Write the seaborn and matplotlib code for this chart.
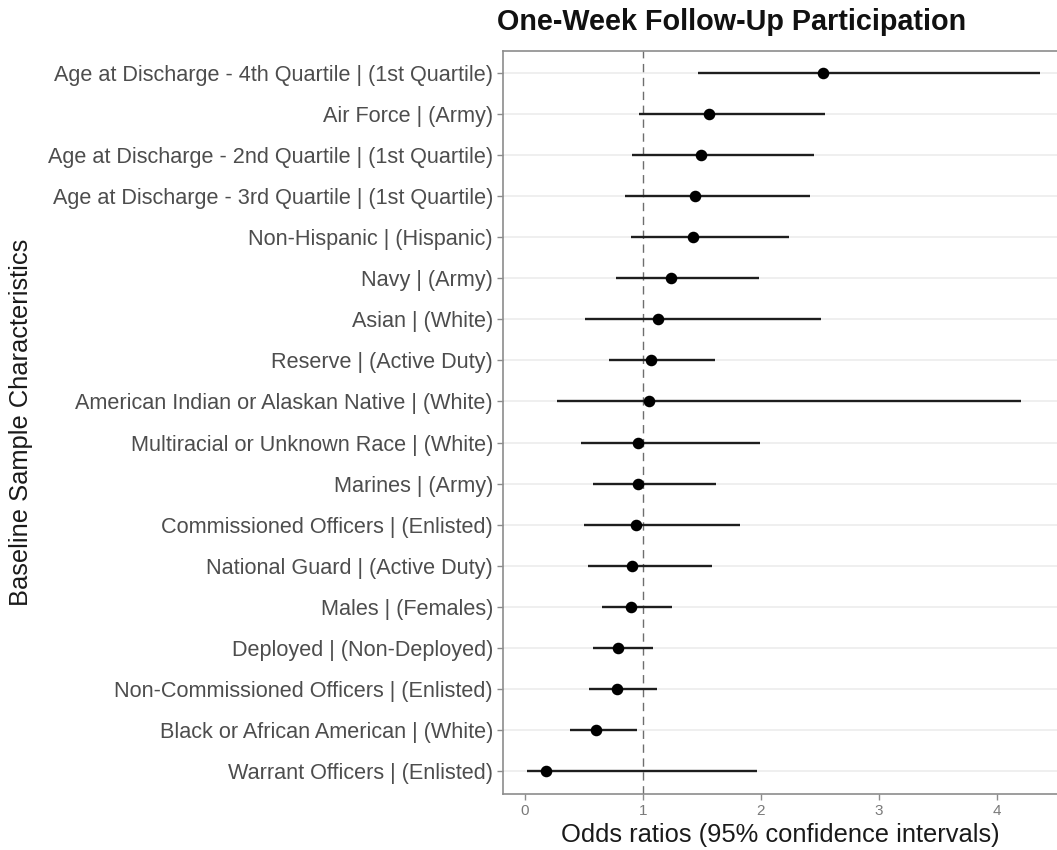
import numpy as np
import pandas as pd
import matplotlib
matplotlib.use("Agg")
import matplotlib.pyplot as plt
import seaborn as sns

# Odds ratios with 95% confidence intervals, top row first
labels = [
    "Age at Discharge - 4th Quartile | (1st Quartile)",
    "Air Force | (Army)",
    "Age at Discharge - 2nd Quartile | (1st Quartile)",
    "Age at Discharge - 3rd Quartile | (1st Quartile)",
    "Non-Hispanic | (Hispanic)",
    "Navy | (Army)",
    "Asian | (White)",
    "Reserve | (Active Duty)",
    "American Indian or Alaskan Native | (White)",
    "Multiracial or Unknown Race | (White)",
    "Marines | (Army)",
    "Commissioned Officers | (Enlisted)",
    "National Guard | (Active Duty)",
    "Males | (Females)",
    "Deployed | (Non-Deployed)",
    "Non-Commissioned Officers | (Enlisted)",
    "Black or African American | (White)",
    "Warrant Officers | (Enlisted)",
]
odds_ratio = [2.53, 1.56, 1.49, 1.44, 1.42, 1.24, 1.13, 1.07, 1.05, 0.96,
              0.96, 0.94, 0.91, 0.90, 0.79, 0.78, 0.60, 0.175]
ci_low = [1.47, 0.97, 0.91, 0.85, 0.90, 0.775, 0.51, 0.71, 0.27, 0.47,
          0.575, 0.50, 0.53, 0.65, 0.575, 0.545, 0.38, 0.02]
ci_high = [4.37, 2.54, 2.45, 2.42, 2.24, 1.98, 2.51, 1.61, 4.21, 1.99,
           1.62, 1.82, 1.585, 1.25, 1.085, 1.12, 0.95, 1.97]
x_ticks = [0, 1, 2, 3, 4]

df = pd.DataFrame({"label": labels, "or": odds_ratio,
                   "lo": ci_low, "hi": ci_high})

sns.set_theme(style="white")
plt.rcParams["font.family"] = ["Liberation Sans", "DejaVu Sans"]

fig = plt.figure(figsize=(10.57, 8.5), dpi=100)
ax = fig.add_axes([502.7 / 1057, 1 - 794 / 850,
                   (1057 - 502.7) / 1057, (794 - 50.8) / 850])

ypos = np.arange(len(df))
# horizontal gridlines at each category
for y in ypos:
    ax.axhline(y, color="#EBEBEB", lw=1.1, zorder=0)

ax.axvline(1, color="#6E6E6E", lw=1.0, ls=(0, (6, 4)), zorder=1)

ax.hlines(ypos, df["lo"], df["hi"], color="#1E1E1E", lw=1.7, zorder=2)
sns.pointplot(data=df, x="or", y="label", order=labels, orient="h",
              linestyle="none", color="black", markersize=6.3,
              errorbar=None, ax=ax, zorder=3)

ax.set_xlim(-0.19, (1057 - 525.3) / 117.85)
ax.set_ylim(len(df) - 1 + 0.56, -0.54)
ax.set_xticks(x_ticks)
ax.set_xticklabels([str(t) for t in x_ticks])

for side in ["left", "bottom", "top"]:
    ax.spines[side].set_visible(True)
    ax.spines[side].set_color("#8C8C8C")
    ax.spines[side].set_linewidth(1.2)
ax.spines["right"].set_visible(False)

ax.tick_params(axis="both", which="both", length=4, width=1.0,
               color="#8C8C8C", left=True, bottom=True)
ax.tick_params(axis="y", labelsize=15.6, labelcolor="#4D4D4D", pad=3)
ax.tick_params(axis="x", labelsize=11, labelcolor="#7A7A7A", pad=3)

ax.set_xlabel("Odds ratios (95% confidence intervals)", fontsize=18.4,
              color="#1A1A1A", labelpad=4)
ax.set_ylabel("Baseline Sample Characteristics", fontsize=18.4,
              color="#1A1A1A")
ax.yaxis.set_label_coords(-0.847, 0.5)

fig.text(497 / 1057, 1 - 22 / 850, "One-Week Follow-Up Participation",
         fontsize=20.7, fontweight="bold", color="#111111",
         ha="left", va="center")

fig.savefig("out.png", dpi=100, facecolor="white")
